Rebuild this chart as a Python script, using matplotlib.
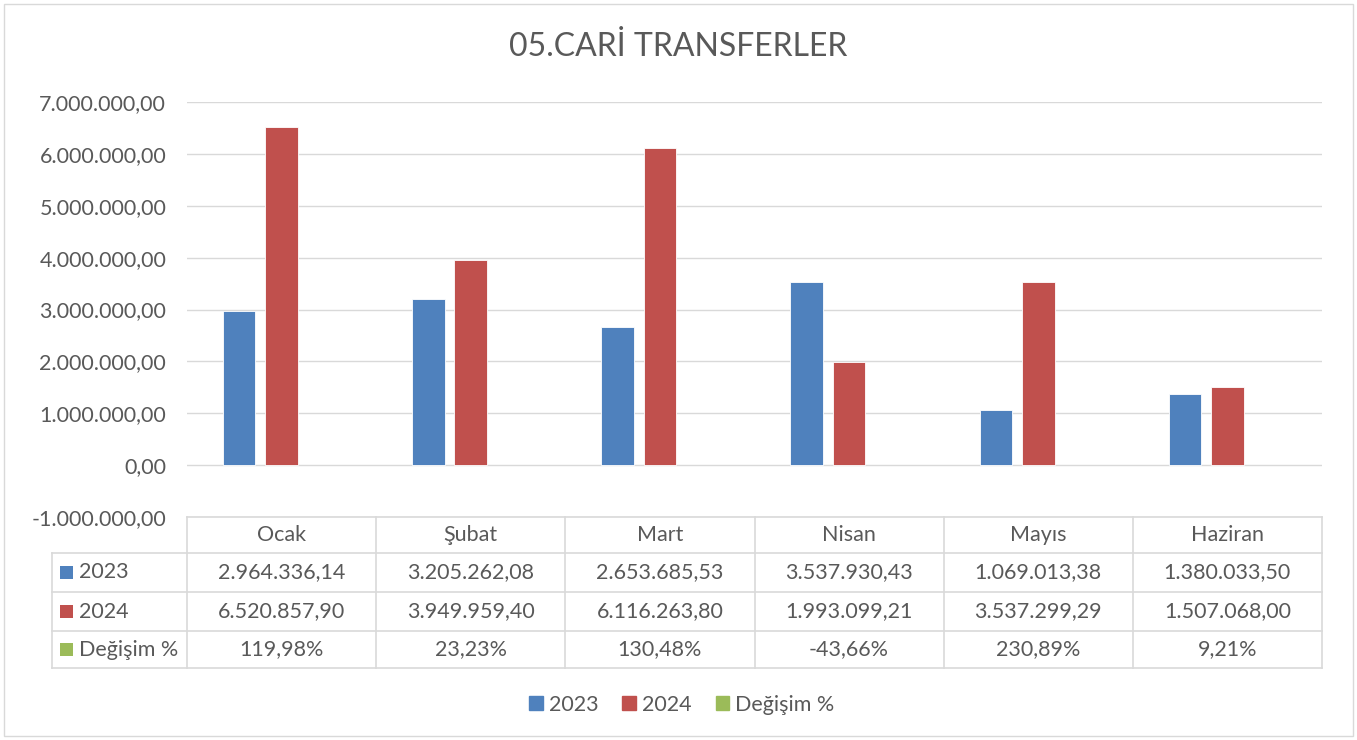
import matplotlib.pyplot as plt
from matplotlib.lines import Line2D
from matplotlib.patches import Rectangle
import numpy as np

plt.rcParams['font.family'] = ['Lato', 'DejaVu Sans']

aylar = ['Ocak', 'Şubat', 'Mart', 'Nisan', 'Mayıs', 'Haziran']
v2023 = [2964336.14, 3205262.08, 2653685.53, 3537930.43, 1069013.38, 1380033.50]
v2024 = [6520857.90, 3949959.40, 6116263.80, 1993099.21, 3537299.29, 1507068.00]
degisim = [119.98, 23.23, 130.48, -43.66, 230.89, 9.21]
seriler = ['2023', '2024', 'Değişim %']
renkler = ['#4f81bd', '#c0504d', '#9bbb59']
yazi = '#595959'
cizgi = '#d9d9d9'
fs = 15.5

W, H = 1357, 740


def tr_sayi(v):
    s = '{:,.2f}'.format(v)
    return s.replace(',', 'X').replace('.', ',').replace('X', '.')


def fx(px):
    return px / W


def fy(py):
    return 1 - py / H


fig = plt.figure(figsize=(W / 100, H / 100), dpi=100)
# dis cerceve
fig.add_artist(Rectangle((fx(4), fy(736)), fx(1349), (736 - 4) / H,
                         transform=fig.transFigure, fill=False, edgecolor=cizgi, lw=1))

L, R, T, B = 187, 1322, 102, 517
ax = fig.add_axes([fx(L), fy(B), fx(R) - fx(L), fy(T) - fy(B)])
x = np.arange(len(aylar))
w = 0.172
off = 0.224
ax.bar(x - off, v2023, w, color=renkler[0], edgecolor='#ffffff', lw=0.6, zorder=3)
ax.bar(x, v2024, w, color=renkler[1], edgecolor='#ffffff', lw=0.6, zorder=3)
ax.bar(x + off, degisim, w, color=renkler[2], zorder=3)
ax.set_xlim(-0.5, len(aylar) - 0.5)
ax.set_ylim(-1000000, 7000000)
ax.set_yticks(np.arange(-1000000, 7000001, 1000000))
ax.set_yticklabels([tr_sayi(t) for t in ax.get_yticks()], fontsize=fs, color=yazi)
ax.tick_params(axis='y', length=0, pad=15)
ax.set_xticks([])
ax.grid(axis='y', color=cizgi, lw=1, zorder=0)
for s in ax.spines.values():
    s.set_visible(False)

fig.text(0.5, fy(47), '05.CARİ TRANSFERLER', ha='center', va='center', fontsize=23, color=yazi)

# tablo
cols = [L + i * (R - L) / len(aylar) for i in range(len(aylar) + 1)]
rows = [517, 553, 592, 631, 668]
lab_left = 52


def hat(x0, y0, x1, y1):
    fig.add_artist(Line2D([fx(x0), fx(x1)], [fy(y0), fy(y1)], transform=fig.transFigure, color=cizgi, lw=1.2))


hat(L, rows[0], R, rows[0])
for r in rows[1:]:
    hat(lab_left, r, R, r)
for c in cols:
    hat(c, rows[0], c, rows[-1])
hat(lab_left, rows[1], lab_left, rows[-1])

for i, ay in enumerate(aylar):
    cx = (cols[i] + cols[i + 1]) / 2
    fig.text(fx(cx), fy((rows[0] + rows[1]) / 2), ay, ha='center', va='center', fontsize=fs, color=yazi)

tablo = [[tr_sayi(v) for v in v2023], [tr_sayi(v) for v in v2024],
         ['{:.2f}%'.format(v).replace('.', ',') for v in degisim]]
for j, satir in enumerate(tablo):
    cy = (rows[j + 1] + rows[j + 2]) / 2
    fig.add_artist(Rectangle((fx(60), fy(cy + 6.5)), fx(13), 13 / H,
                             transform=fig.transFigure, color=renkler[j], lw=0))
    fig.text(fx(79), fy(cy), seriler[j], ha='left', va='center', fontsize=fs, color=yazi)
    for i, t in enumerate(satir):
        cx = (cols[i] + cols[i + 1]) / 2
        fig.text(fx(cx), fy(cy), t, ha='center', va='center', fontsize=fs, color=yazi)

# lejant
handles = [Rectangle((0, 0), 1, 1, color=c) for c in renkler]
fig.legend(handles, seriler, loc='center', bbox_to_anchor=(fx(682), fy(705)), ncol=3, frameon=False,
           fontsize=fs, labelcolor=yazi, handlelength=0.62, handleheight=0.62, handletextpad=0.3, columnspacing=1.1)

fig.savefig('out.png', dpi=100)
